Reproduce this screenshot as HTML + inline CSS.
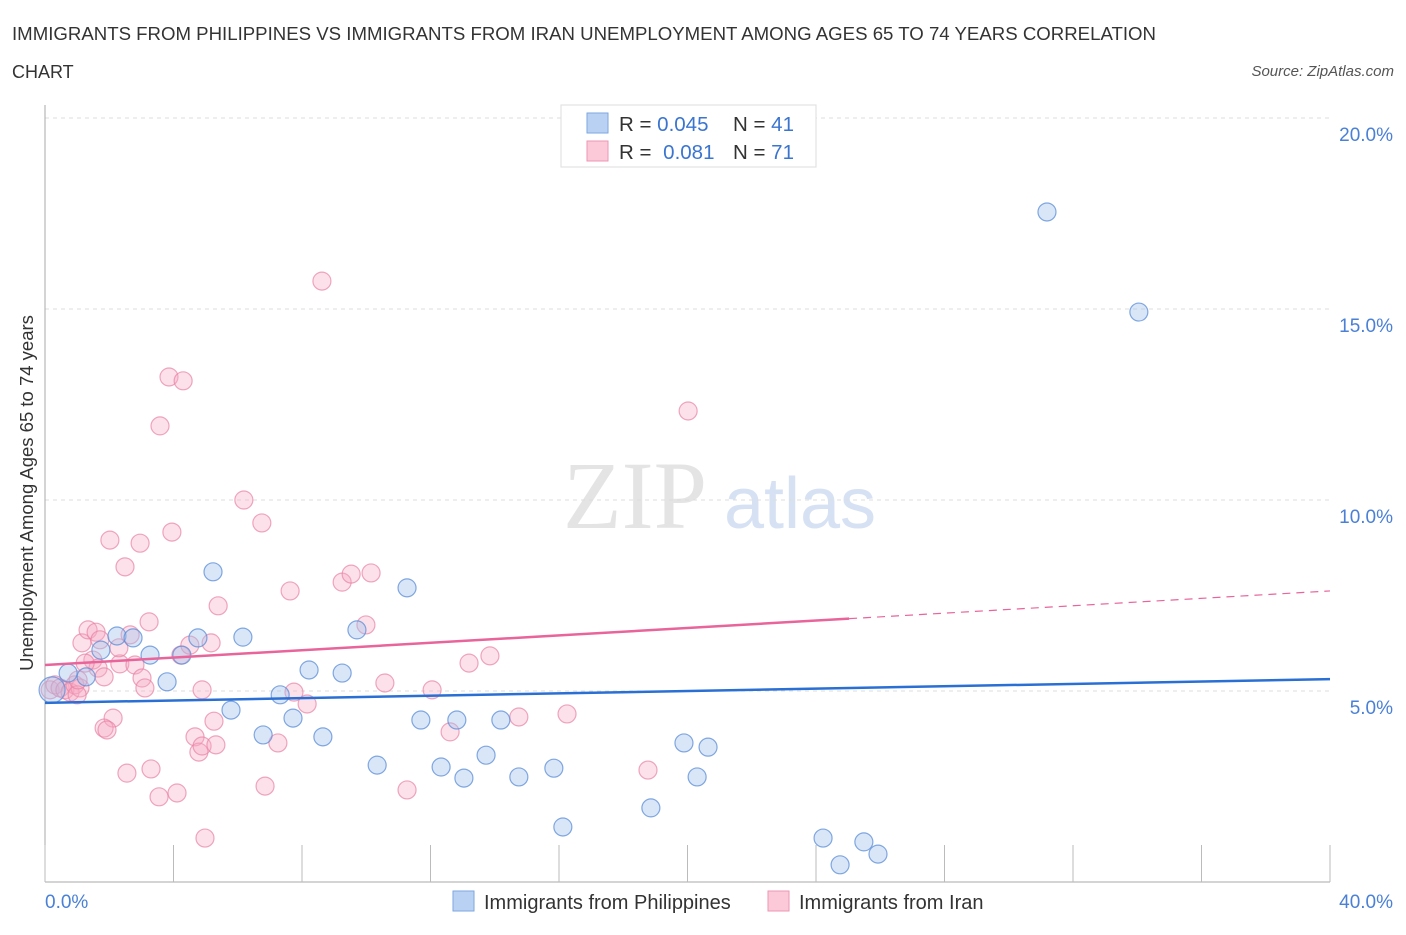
<!DOCTYPE html>
<html><head><meta charset="utf-8"><style>
body{margin:0;background:#fff;width:1406px;height:930px;overflow:hidden;font-family:"Liberation Sans",sans-serif}
</style></head><body>
<svg id="c" width="1406" height="930" xmlns="http://www.w3.org/2000/svg">
<text x="12" y="40" font-size="18" fill="#333" textLength="1144" lengthAdjust="spacingAndGlyphs">IMMIGRANTS FROM PHILIPPINES VS IMMIGRANTS FROM IRAN UNEMPLOYMENT AMONG AGES 65 TO 74 YEARS CORRELATION</text>
<text x="12" y="78" font-size="18" fill="#333">CHART</text>
<text x="1394" y="76" font-size="15" fill="#555" font-style="italic" text-anchor="end">Source: ZipAtlas.com</text>
<text x="635" y="528" font-size="96" fill="#e4e4e4" font-family="Liberation Serif,serif" text-anchor="middle">ZIP</text>
<text x="800" y="528" font-size="72" fill="#d6e2f3" text-anchor="middle">atlas</text>
<g id="grid"></g><g id="pts"></g><g id="lines"></g>
<text x="33" y="493" font-size="18.5" fill="#333" text-anchor="middle" transform="rotate(-90 33 493)">Unemployment Among Ages 65 to 74 years</text>
<g>
<rect x="561" y="105" width="255" height="62" fill="#fff" stroke="#ddd"/>
<rect x="587" y="113" width="21" height="20" fill="#b9d1f3" stroke="#7ea6e0"/>
<rect x="587" y="141" width="21" height="20" fill="#fbc9d8" stroke="#eb97b3"/>
<text x="619" y="131" font-size="20.5" fill="#333">R = <tspan fill="#3a75d0">0.045</tspan></text>
<text x="733" y="131" font-size="20.5" fill="#333">N = <tspan fill="#3a75d0">41</tspan></text>
<text x="619" y="159" font-size="20.5" fill="#333">R = <tspan fill="#3a75d0" dx="6">0.081</tspan></text>
<text x="733" y="159" font-size="20.5" fill="#333">N = <tspan fill="#3a75d0">71</tspan></text>
</g>
<g>
<rect x="453" y="891" width="21" height="20" fill="#b9d1f3" stroke="#7ea6e0"/>
<text x="484" y="909" font-size="20" fill="#333">Immigrants from Philippines</text>
<rect x="768" y="891" width="21" height="20" fill="#fbc9d8" stroke="#eb97b3"/>
<text x="799" y="909" font-size="20" fill="#333">Immigrants from Iran</text>
</g>
</svg>
<script>
const yTicks=[5,10,15,20];
const yTickLabels=["5.0%","10.0%","15.0%","20.0%"];
const xTicks=[0,4,8,12,16,20,24,28,32,36,40];
const phX=[0.22,0.72,1.28,1.74,2.24,2.74,3.27,3.80,4.26,4.76,5.23,5.79,6.16,6.79,7.32,7.72,8.22,8.65,9.25,9.71,10.34,11.27,11.70,12.33,12.82,13.04,13.73,14.19,14.75,15.84,16.12,18.86,19.89,20.30,20.64,24.22,24.75,25.49,25.93,31.19,34.05];
const phY=[5.03,5.47,5.37,6.07,6.44,6.39,5.94,5.24,5.94,6.39,8.12,4.50,6.41,3.85,4.90,4.29,5.55,3.80,5.47,6.60,3.06,7.70,4.24,3.01,4.24,2.72,3.32,4.24,2.75,2.98,1.44,1.94,3.64,2.75,3.53,1.15,0.45,1.05,0.73,17.54,14.92];
const irX=[0.16,0.31,0.47,0.62,0.78,0.93,1.09,1.00,1.15,1.34,1.59,1.71,1.49,1.65,1.25,2.33,1.84,1.03,2.02,2.49,2.96,3.95,3.58,3.86,4.30,8.62,20.02,6.19,6.75,5.39,7.63,9.25,9.53,10.15,9.99,3.24,2.65,2.30,2.80,3.02,3.11,2.12,1.84,1.93,2.55,3.30,3.55,4.11,4.98,4.67,4.79,4.89,5.32,5.26,4.89,5.17,4.23,4.51,6.85,7.25,7.75,8.16,10.58,11.27,12.05,12.61,13.20,13.85,14.75,16.25,18.77];
const irY=[5.03,5.16,5.08,5.03,4.97,5.16,5.08,4.90,6.26,6.60,6.54,6.34,5.81,5.60,5.73,5.71,5.37,5.29,8.95,8.25,8.87,9.16,11.94,13.22,13.12,15.73,12.33,10.0,9.40,7.23,7.62,7.85,8.06,8.09,6.73,6.81,6.47,6.13,5.68,5.34,5.08,4.29,4.03,3.98,2.85,2.96,2.23,2.33,1.15,3.80,3.40,3.56,3.59,4.21,5.03,6.26,5.94,6.20,2.51,3.64,4.97,4.66,5.21,2.41,5.03,3.93,5.73,5.92,4.32,4.40,2.93];
const phTrend=[4.69,5.31];
const irTrend=[5.68,7.62];
const irSolidEnd=25.03;
const NS="http://www.w3.org/2000/svg";
const sx=v=>45+v/40*1285, sy=v=>882-v*38.2;
function mk(t,a,p){const e=document.createElementNS(NS,t);for(const k in a)e.setAttribute(k,a[k]);p.appendChild(e);return e;}
const g=document.getElementById('grid');
yTicks.forEach((t,i)=>{
 const l=mk('line',{x1:45,x2:1330,y1:sy(t),y2:sy(t),stroke:'#ddd','stroke-dasharray':'4,4'},g);
 
 
 const tx=mk('text',{x:1393,y:sy(t)+23,'font-size':19,fill:'#4a80d6','text-anchor':'end'},g);
 tx.textContent=yTickLabels[i];
 
 
});
const ax=mk('line',{x1:45,x2:45,y1:105,y2:882,stroke:'#aaa'},g);


const bx=mk('line',{x1:45,x2:1330,y1:882,y2:882,stroke:'#aaa'},g);


xTicks.forEach(t=>{
 const l=mk('line',{x1:sx(t),x2:sx(t),y1:845,y2:882,stroke:'#bbb'},g);
 
 
});
const x0=mk('text',{x:45,y:908,'font-size':19,fill:'#4a80d6'},g);x0.textContent='0.0%';


const x1=mk('text',{x:1393,y:908,'font-size':19,fill:'#4a80d6','text-anchor':'end'},g);x1.textContent='40.0%';


const P=document.getElementById('pts');
irX.forEach((x,i)=>{
 const c=mk('circle',{cx:sx(x),cy:sy(irY[i]),r:9,fill:'rgba(246,170,196,0.35)',stroke:'rgba(232,130,165,0.7)','stroke-width':1.2},P);
 
 
});
phX.forEach((x,i)=>{
 const c=mk('circle',{cx:sx(x),cy:sy(phY[i]),r:i==0?13:9,fill:'rgba(160,192,238,0.4)',stroke:'rgba(90,140,215,0.75)','stroke-width':1.2},P);
 
 
});
const L=document.getElementById('lines');
const b=mk('line',{x1:sx(0),y1:sy(phTrend[0]),x2:sx(40),y2:sy(phTrend[1]),stroke:'#2a6fd4','stroke-width':2.5},L);


const yAt=x=>irTrend[0]+(irTrend[1]-irTrend[0])*x/40;
const p1=mk('line',{x1:sx(0),y1:sy(irTrend[0]),x2:sx(irSolidEnd),y2:sy(yAt(irSolidEnd)),stroke:'#e8649a','stroke-width':2.5},L);


const p2=mk('line',{x1:sx(irSolidEnd),y1:sy(yAt(irSolidEnd)),x2:sx(40),y2:sy(irTrend[1]),stroke:'#e8649a','stroke-width':1.2,'stroke-dasharray':'8,6'},L);


</script>
</body></html>
